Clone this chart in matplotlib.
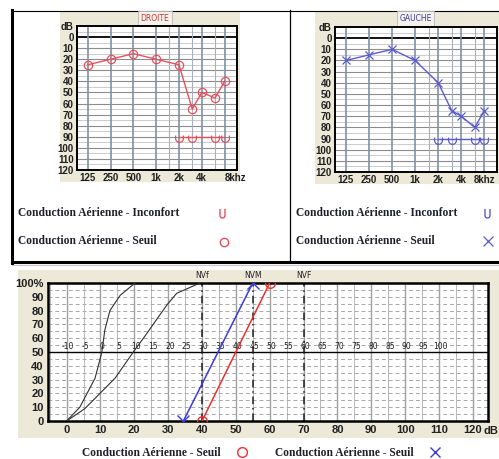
import matplotlib
matplotlib.use("Agg")
import matplotlib.pyplot as plt
from matplotlib.patches import Rectangle
from matplotlib.path import Path
import numpy as np

# tonal audiogram
freqs = [125, 250, 500, 1000, 2000, 3000, 4000, 6000, 8000]
droite_seuil = [25, 20, 15, 20, 25, 65, 50, 55, 40]
gauche_seuil = [20, 15, 10, 20, 40, 65, 70, 80, 65]
inconfort_freqs = [2000, 3000, 6000, 8000]
droite_inconfort = [90, 90, 90, 90]
gauche_inconfort = [90, 90, 90, 90]
freq_ticks = [125, 250, 500, 1000, 2000, 4000, 8000]
freq_labels = ['125', '250', '500', '1k', '2k', '4k', '8khz']
freq_minor = [1500, 3000, 6000]
db_ticks = list(range(0, 121, 10))

# vocal audiogram
norm1_db = [0, 3.9, 8.4, 9.9, 10.4, 11.3, 12.8, 15.8, 20.2]
norm1_pct = [0, 10, 31, 45, 50, 66, 80, 91, 100]
norm2_db = [0, 5.4, 14.3, 19.7, 22.7, 29.6, 32.5, 39.4]
norm2_pct = [0, 9, 31, 50, 60, 84, 92.5, 100]
droite_vocal_db = [40, 60]
droite_vocal_pct = [0, 100]
gauche_vocal_db = [34.5, 55]
gauche_vocal_pct = [0, 100]
nv_db = [40, 55, 70]
nv_labels = ['NVf', 'NVM', 'NVF']
scale_labels = list(range(-10, 101, 5))
vocal_xticks = list(range(0, 121, 10))
vocal_yticks = list(range(0, 101, 10))

RED = '#e8505c'
BLUE = '#5a5ad2'
PANEL = '#ECE9D8'


def u_path(half_w, top, r_bottom):
    # open U shape: two sides and a half circle at the bottom
    th = np.linspace(np.pi, 2 * np.pi, 20)
    c = r_bottom + half_w
    verts = [(-half_w, top), (-half_w, c)]
    verts += [(half_w * np.cos(t), c + half_w * np.sin(t)) for t in th]
    verts += [(half_w, top)]
    return Path(verts)


U_MARK = u_path(0.8, 0.4, -1.0)
U_LEG = u_path(0.55, 1.0, -1.0)

fig = plt.figure(figsize=(4.99, 4.59), dpi=100)

bg = fig.add_axes([0, 0, 1, 1])
bg.set_xlim(0, 499)
bg.set_ylim(459, 0)
bg.axis('off')

# frame of the top block
bg.plot([12, 499], [10.5, 10.5], color='black', lw=0.8)
bg.plot([12.5, 12.5], [10, 263], color='black', lw=2.2)
bg.plot([12, 499], [262, 262], color='black', lw=2.2)
bg.plot([12, 499], [265, 265], color='#c8c8c8', lw=0.8)
bg.plot([290, 290], [10, 262], color='black', lw=0.9)

# grey panels
bg.add_patch(Rectangle((60, 11), 180, 171, fc=PANEL, ec='none'))
bg.add_patch(Rectangle((315, 11), 184, 173, fc=PANEL, ec='none'))
bg.add_patch(Rectangle((18, 270), 481, 168, fc=PANEL, ec='none'))

# title boxes
bg.text(155, 18.5, 'DROITE', ha='center', va='center', fontsize=5.5, color='#c03838',
        bbox=dict(boxstyle='square,pad=0.35', fc='#f4f2ea', ec='#b8b8b8', lw=0.6))
bg.text(415.5, 18.5, 'GAUCHE', ha='center', va='center', fontsize=5.5, color='#3a3aa8',
        bbox=dict(boxstyle='square,pad=0.35', fc='#f4f2ea', ec='#b8b8b8', lw=0.6))

# legends
lfont = dict(family='Liberation Serif', fontweight='bold', fontsize=8.3, color='#20202c', va='center')
bg.text(18, 213, 'Conduction Aérienne - Inconfort', **lfont)
bg.text(18, 241, 'Conduction Aérienne - Seuil', **lfont)
bg.text(296, 213, 'Conduction Aérienne - Inconfort', **lfont)
bg.text(296, 241, 'Conduction Aérienne - Seuil', **lfont)
bg.plot([222], [213], marker=U_LEG, ms=6.5, mfc='none', mec=RED, mew=1.0, ls='none')
bg.plot([224], [242], marker='o', ms=6, mfc='none', mec=RED, mew=1.0, ls='none')
bg.plot([487], [213], marker=U_LEG, ms=6.5, mfc='none', mec=BLUE, mew=1.0, ls='none')
bg.plot([488], [241], marker='x', ms=7, color=BLUE, mew=0.9, ls='none')

bg.text(82, 453, 'Conduction Aérienne - Seuil', **lfont)
bg.text(275, 453, 'Conduction Aérienne - Seuil', **lfont)
bg.plot([242], [452], marker='o', ms=7, mfc='none', mec='#f03030', mew=1.0, ls='none')
bg.plot([435], [452], marker='x', ms=7.5, color='#3a3ae0', mew=1.0, ls='none')
bg.text(491, 431, 'dB', ha='center', va='center', fontsize=8, fontweight='bold',
        family='Liberation Sans', color='#202020')


def audiogram(rect, seuil, inconf, color, seuil_marker, last_ha):
    ax = fig.add_axes(rect)
    ax.set_facecolor('white')
    ax.set_xscale('log')
    ax.set_xlim(90, 11700)
    ax.set_ylim(120, -10)
    for d in range(-5, 121, 5):
        if d == 0:
            ax.axhline(d, color='black', lw=1.3, zorder=1)
        elif d % 10 == 0:
            ax.axhline(d, color='#8c8c8c', lw=0.8, zorder=1)
        else:
            ax.axhline(d, color='#c4c4c4', lw=0.6, zorder=1)
    for f in freq_ticks:
        ax.axvline(f, color='#8090a4', lw=1.2, zorder=1)
    for f in freq_minor:
        ax.axvline(f, color='#a8b0bc', lw=0.8, zorder=1)
    ax.plot(freqs, seuil, color=color, lw=1.0, marker=seuil_marker, ms=6,
            mfc='none', mec=color, mew=0.9, zorder=3)
    ax.plot(inconfort_freqs, inconf, color=color, lw=1.0, marker=U_MARK, ms=7,
            mec=color, mfc='none', mew=0.9, zorder=3)
    ax.set_xticks(freq_ticks)
    ax.set_xticklabels(freq_labels)
    ax.xaxis.set_minor_locator(matplotlib.ticker.NullLocator())
    ax.set_yticks([-10] + db_ticks)
    ax.set_yticklabels(['dB'] + [str(d) for d in db_ticks])
    ax.tick_params(length=0, pad=2.5, labelsize=7)
    for lab in ax.get_xticklabels() + ax.get_yticklabels():
        lab.set_fontweight('bold')
        lab.set_family('Liberation Sans')
        lab.set_color('#202020')
    ax.get_xticklabels()[-1].set_horizontalalignment(last_ha)
    for s in ax.spines.values():
        s.set_linewidth(1.4)
        s.set_color('black')
    return ax


audiogram([77 / 499, 1 - 170 / 459, 160 / 499, 144 / 459], droite_seuil, droite_inconfort, RED, 'o', 'left')
audiogram([335 / 499, 1 - 172 / 459, 162 / 499, 145 / 459], gauche_seuil, gauche_inconfort, BLUE, 'x', 'center')

# vocal audiogram
ax = fig.add_axes([48 / 499, 1 - 421 / 459, 440 / 499, 138 / 459])
ax.set_facecolor('white')
ax.set_xlim(-5.5, 124.5)
ax.set_ylim(0, 100)
for d in range(-5, 125, 5):
    ax.axvline(d, color='#a0a0a0' if d % 10 == 0 else '#b8b8b8', lw=1.0 if d % 10 == 0 else 0.7, zorder=1)
for p in range(5, 100, 5):
    if p == 50:
        continue
    ax.axhline(p, color='#a8a8a8', lw=0.7, ls=(0, (4, 3)), zorder=1)
ax.axhline(50, color='black', lw=1.0, zorder=2)
for v in scale_labels:
    ax.text(v + 10.5, 51, str(v), ha='center', va='bottom', fontsize=5.5, color='#202020', zorder=3)
for d, lab in zip(nv_db, nv_labels):
    ax.axvline(d, color='#202020', lw=1.1, ls=(0, (5, 2.5, 1, 2.5)), zorder=2)
    ax.text(d, 102.5, lab, ha='center', va='bottom', fontsize=5.5, color='#202020', clip_on=False)

ax.plot(norm1_db, norm1_pct, color='#303030', lw=0.8, zorder=3)
ax.plot(norm2_db, norm2_pct, color='#303030', lw=0.8, zorder=3)
ax.plot(gauche_vocal_db, gauche_vocal_pct, color='#3a3ae0', lw=1.1, marker='x', ms=8, mew=1.0, zorder=4)
ax.plot(droite_vocal_db, droite_vocal_pct, color='#f03030', lw=1.1, marker='o', ms=7,
        mfc='none', mec='#f03030', mew=1.0, zorder=4)

ax.set_xticks(vocal_xticks)
ax.set_yticks(vocal_yticks)
ax.set_yticklabels([str(p) for p in vocal_yticks[:-1]] + ['100%'])
ax.tick_params(length=0, pad=3, labelsize=8)
for lab in ax.get_xticklabels() + ax.get_yticklabels():
    lab.set_fontweight('bold')
    lab.set_family('Liberation Sans')
    lab.set_color('#202020')
for s in ax.spines.values():
    s.set_linewidth(1.8)
    s.set_color('black')

fig.savefig('out.png', dpi=100)
